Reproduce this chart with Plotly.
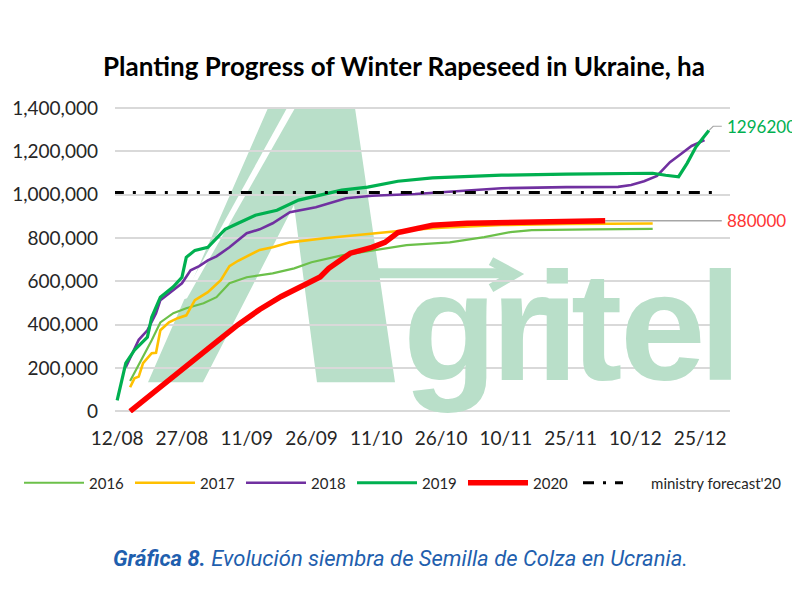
import plotly.graph_objects as go

YEAR = 2020

# ---------------- data ----------------
dates_2016 = ["15/08", "18/08", "20/08", "22/08", "25/08", "28/08", "01/09", "04/09", "07/09",
              "11/09", "14/09", "17/09", "22/09", "26/09", "03/10", "10/10", "18/10", "28/10",
              "05/11", "11/11", "16/11", "30/11", "14/12"]
vals_2016 = [140000, 249000, 328000, 410000, 453000, 476000, 499000, 527000, 591000,
             619000, 628000, 637000, 660000, 688000, 720000, 743000, 767000, 780000,
             804000, 827000, 836000, 840000, 842000]

dates_2017 = ["15/08", "16/08", "17/08", "18/08", "20/08", "21/08", "22/08", "24/08", "26/08",
              "28/08", "30/08", "02/09", "05/09", "07/09", "09/09", "12/09", "14/09", "17/09",
              "21/09", "29/09", "10/10", "18/10", "26/10", "09/11", "24/11", "14/12"]
vals_2017 = [111000, 152000, 160000, 222000, 268000, 270000, 374000, 411000, 430000,
             443000, 513000, 550000, 605000, 670000, 695000, 725000, 745000, 757000,
             780000, 799000, 822000, 836000, 848000, 860000, 865000, 867000]

dates_2018 = ["14/08", "16/08", "17/08", "19/08", "21/08", "22/08", "24/08", "27/08", "29/08",
              "31/08", "02/09", "04/09", "07/09", "11/09", "14/09", "17/09", "21/09", "27/09",
              "04/10", "10/10", "20/10", "28/10", "09/11", "24/11", "06/12", "09/12", "12/12",
              "15/12", "18/12", "20/12", "23/12", "26/12"]
vals_2018 = [203000, 290000, 330000, 374000, 453000, 513000, 545000, 591000, 651000,
             670000, 697000, 715000, 757000, 822000, 840000, 868000, 919000, 942000,
             984000, 995000, 1003000, 1015000, 1030000, 1035000, 1036000, 1045000, 1062000,
             1087000, 1150000, 1180000, 1225000, 1252000]

dates_2019 = ["12/08", "13/08", "14/08", "16/08", "19/08", "20/08", "22/08", "25/08", "27/08",
              "28/08", "30/08", "02/09", "04/09", "06/09", "09/09", "13/09", "18/09", "23/09",
              "28/09", "03/10", "09/10", "16/10", "24/10", "09/11", "24/11", "09/12", "14/12",
              "17/12", "20/12", "22/12", "24/12", "27/12"]
vals_2019 = [50000, 134000, 222000, 282000, 342000, 434000, 527000, 575000, 619000,
             711000, 743000, 757000, 799000, 840000, 868000, 905000, 928000, 975000,
             998000, 1021000, 1035000, 1062000, 1078000, 1090000, 1095000, 1099000, 1099000,
             1090000, 1083000, 1146000, 1220000, 1296200]

dates_2020 = ["15/08", "20/08", "25/08", "30/08", "04/09", "09/09", "14/09", "19/09", "25/09",
              "28/09", "30/09", "03/10", "05/10", "10/10", "13/10", "16/10", "21/10", "24/10",
              "01/11", "16/11", "03/12"]
vals_2020 = [0, 78000, 160000, 240000, 320000, 400000, 470000, 530000, 591000,
             620000, 660000, 700000, 730000, 757000, 780000, 825000, 848000, 859000,
             868000, 873000, 880000]

forecast_dates = ["11/08", "29/12"]
forecast_vals = [1010000, 1010000]

tick_labels = ["12/08", "27/08", "11/09", "26/09", "11/10", "26/10", "10/11", "25/11", "10/12", "25/12"]
y_ticks = [0, 200000, 400000, 600000, 800000, 1000000, 1200000, 1400000]

label_2019 = "1296200"
label_2020 = "880000"


def to_date(s):
    d, m = s.split("/")
    return f"{YEAR}-{m}-{d}"


# ---------------- geometry ----------------
# the page puts the figure 8px from the top-left corner, so the figure is
# 8px smaller and every target position below is given in page pixels
OFF = 8
W, H = 800 - OFF, 599 - OFF
PL, PR, PT, PB = 115, 730, 107, 412.7        # plot area in page pixels
ML, MR, MT, MB = PL - OFF, 800 - PR, PT - OFF, 599 - PB
PW, PH = PR - PL, PB - PT


def px(x):
    return (x - PL) / PW


def py(y):
    return (PB - y) / PH


def cx(x):
    return (x - OFF) / W


def cy(y):
    return 1 - (y - OFF) / H


fig = go.Figure()

# leader lines for the end labels
fig.add_trace(go.Scatter(
    x=[to_date(dates_2020[-1]), to_date("30/12")], y=[vals_2020[-1], vals_2020[-1]],
    mode="lines", line=dict(color="#A6A6A6", width=1.5), showlegend=False, hoverinfo="skip"))
fig.add_trace(go.Scatter(
    x=[to_date(dates_2019[-1]), to_date("28/12"), to_date("30/12")],
    y=[vals_2019[-1], 1316000, 1316000],
    mode="lines", line=dict(color="#A6A6A6", width=1.2), showlegend=False, hoverinfo="skip"))

series = [
    ("2016", dates_2016, vals_2016, "#6CC04A", 2.2),
    ("2017", dates_2017, vals_2017, "#FFC000", 2.6),
    ("2018", dates_2018, vals_2018, "#7030A0", 2.6),
    ("2019", dates_2019, vals_2019, "#00B050", 3.2),
    ("2020", dates_2020, vals_2020, "#FF0000", 5.5),
]
for name, ds, vs, col, w in series:
    fig.add_trace(go.Scatter(
        x=[to_date(d) for d in ds], y=vs, name=name, mode="lines",
        line=dict(color=col, width=w, shape="linear"), legend="legend"))

fig.add_trace(go.Scatter(
    x=[to_date(d) for d in forecast_dates], y=forecast_vals,
    name="\u00a0" * 6 + "ministry forecast'20", legend="legend2",
    mode="lines", line=dict(color="#000000", width=3, dash="11px,9px,3px,9px")))

# ---------------- watermark (Agritel logo, decorative) ----------------
WM = "#B9DFC9"


def path(points, close=True):
    s = "M " + " L ".join(f"{px(x):.5f},{py(y):.5f}" for x, y in points)
    return s + (" Z" if close else "")


shapes = [
    dict(type="path", xref="paper", yref="paper", layer="below",
         path=path([(148, 382), (268, 108), (355, 108), (395, 382), (317, 382),
                    (294, 205), (203, 382)]),
         fillcolor=WM, line=dict(width=0)),
    dict(type="path", xref="paper", yref="paper", layer="below",
         path=path([(287, 108), (295, 108), (187, 298), (181, 300)]),
         fillcolor="white", line=dict(width=0)),
    dict(type="path", xref="paper", yref="paper", layer="below",
         path=path([(376, 273), (512, 273)], close=False),
         line=dict(color=WM, width=10)),
    dict(type="path", xref="paper", yref="paper", layer="below",
         path=path([(491, 261), (515, 274), (491, 288)], close=False),
         line=dict(color=WM, width=9)),
]

annotations = []
for ch, lx in zip(["g", "r", "i", "t", "e", "l"], [450, 521, 557, 596, 663, 720]):
    annotations.append(dict(text=ch, x=px(lx), y=py(327), xref="paper", yref="paper",
                            xanchor="center", yanchor="middle", showarrow=False,
                            font=dict(family="Liberation Sans", size=154, color=WM, weight="bold")))

# end labels
annotations.append(dict(text=label_2020, x=to_date("30/12"), y=vals_2020[-1], xref="x", yref="y",
                        xanchor="left", yanchor="middle", xshift=3, showarrow=False,
                        font=dict(family="Lato", size=17, color="#FF3333")))
annotations.append(dict(text=label_2019, x=to_date("30/12"), y=1316000, xref="x", yref="y",
                        xanchor="left", yanchor="middle", xshift=3, showarrow=False,
                        font=dict(family="Lato", size=17, color="#00B050")))

# caption
annotations.append(dict(text="<b>Gráfica 8.</b> Evolución siembra de Semilla de Colza en Ucrania.",
                        x=px(400), y=py(558), xref="paper", yref="paper", xanchor="center",
                        yanchor="middle", showarrow=False,
                        font=dict(family="Roboto", size=22, color="#1F5FAE", style="italic")))

legend_font = dict(family="Lato", size=15, color="#262626")

fig.update_layout(
    width=W, height=H,
    margin=dict(l=ML, r=MR, t=MT, b=MB, autoexpand=False),
    paper_bgcolor="white", plot_bgcolor="white",
    title=dict(text="<b>Planting Progress of Winter Rapeseed in Ukraine, ha</b>",
               x=cx(404), y=cy(67), xref="container", yref="container",
               xanchor="center", yanchor="middle",
               font=dict(family="Lato", size=26, color="#000000")),
    font=dict(family="Lato", size=16, color="#262626"),
    shapes=shapes,
    annotations=annotations,
    showlegend=True,
    legend=dict(orientation="h", xref="container", yref="container",
                x=cx(19), y=cy(483), xanchor="left", yanchor="middle",
                entrywidth=36, entrywidthmode="pixels", itemwidth=60,
                font=legend_font, bgcolor="rgba(0,0,0,0)"),
    legend2=dict(orientation="h", xref="container", yref="container",
                 x=cx(578), y=cy(483), xanchor="left", yanchor="middle",
                 itemwidth=40, font=legend_font, bgcolor="rgba(0,0,0,0)"),
)

fig.update_xaxes(
    type="date",
    range=["2020-08-11 12:00", "2020-12-31 21:36"],
    tickvals=[to_date(t) for t in tick_labels],
    ticktext=tick_labels,
    showgrid=False, showline=False, zeroline=False,
    ticks="", ticklabelstandoff=12,
    tickfont=dict(family="Lato", size=19, color="#262626"),
)
fig.update_yaxes(
    range=[-8000, 1405000],
    tickvals=y_ticks,
    tickformat=",d",
    showgrid=True, gridcolor="#D9D9D9", gridwidth=1.5,
    zeroline=True, zerolinecolor="#D9D9D9", zerolinewidth=1.5,
    showline=False, ticks="", ticklabelstandoff=16,
    tickfont=dict(family="Lato", size=19, color="#262626"),
)

fig.write_html("out.html")
